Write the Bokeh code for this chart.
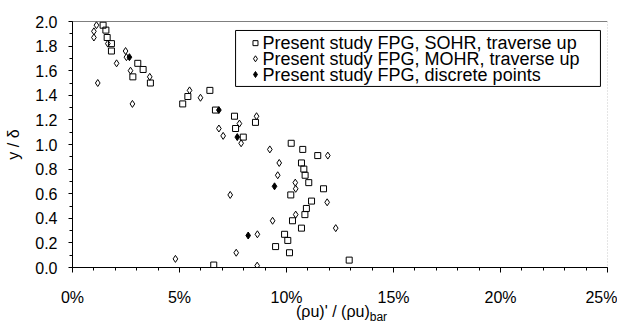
from bokeh.plotting import figure
from bokeh.models import Range1d, FixedTicker, PrintfTickFormatter, Span, Div
from bokeh.core.properties import value
from bokeh.layouts import column
from bokeh.embed import file_html
from bokeh.resources import INLINE

# ---- data (x in percent, y = y/delta) ----
sohr_x = [1.43, 1.56, 1.62, 1.82, 1.82, 3.05, 3.30, 2.82, 3.64, 5.15, 5.39, 6.42, 6.68,
          7.57, 7.62, 7.98, 8.55, 10.22, 10.76, 11.46, 10.70, 10.81, 10.87, 11.04, 11.73,
          10.20, 11.17, 10.93, 10.86, 10.28, 10.70, 9.91, 10.06, 9.49, 10.14, 12.93, 6.60]
sohr_y = [1.97, 1.93, 1.87, 1.82, 1.76, 1.66, 1.61, 1.55, 1.50, 1.33, 1.39, 1.44, 1.28,
          1.23, 1.13, 1.06, 1.18, 1.01, 0.96, 0.91, 0.85, 0.80, 0.75, 0.69, 0.64,
          0.59, 0.54, 0.48, 0.43, 0.38, 0.32, 0.27, 0.22, 0.17, 0.12, 0.06, 0.02]

mohr_x = [1.00, 1.00, 1.12, 1.18, 1.65, 2.06, 2.48, 2.52, 2.71, 2.80, 3.61, 5.47, 5.98,
          6.84, 7.04, 7.80, 7.88, 8.60, 9.22, 11.93, 9.66, 9.59, 10.41, 10.43, 7.37,
          11.90, 10.43, 9.35, 12.30, 8.64, 7.65, 8.63, 4.81]
mohr_y = [1.87, 1.92, 1.97, 1.50, 1.82, 1.66, 1.76, 1.71, 1.60, 1.33, 1.55, 1.44, 1.38,
          1.13, 1.07, 1.17, 1.01, 1.23, 0.96, 0.91, 0.85, 0.75, 0.69, 0.64, 0.59,
          0.53, 0.43, 0.38, 0.32, 0.27, 0.12, 0.015, 0.07]

disc_x = [7.70, 6.84, 9.44, 8.21, 2.66]
disc_y = [1.06, 1.28, 0.66, 0.26, 1.71]

x_ticks = [0, 5, 10, 15, 20, 25]
y_ticks = [0.0, 0.2, 0.4, 0.6, 0.8, 1.0, 1.2, 1.4, 1.6, 1.8, 2.0]

labels = ["Present study FPG, SOHR, traverse up",
          "Present study FPG, MOHR, traverse up",
          "Present study FPG, discrete points"]

FONT = "Liberation Sans"

p = figure(frame_width=535, frame_height=246, output_backend="svg", toolbar_location=None,
           x_range=Range1d(0, 25), y_range=Range1d(0, 2.0),
           min_border_left=72, min_border_top=21, min_border_right=10, min_border_bottom=36,
           background_fill_color="white", border_fill_color="white")
p.outline_line_color = None
p.xgrid.visible = False
p.ygrid.visible = False

p.scatter(sohr_x, sohr_y, marker="square", size=6, fill_color=None,
          line_color="black", line_width=1)
p.scatter(mohr_x, mohr_y, marker="diamond", size=7, fill_color=None,
          line_color="black", line_width=1)
p.scatter(disc_x, disc_y, marker="diamond", size=7, fill_color="black",
          line_color="black", line_width=1)

# frame edges
p.add_layout(Span(location=2.0, dimension="width", line_color="black", line_width=1))
p.add_layout(Span(location=25, dimension="height", line_color="#999999", line_width=1,
                  line_dash="1 2"))

# ---- legend (tight line pitch, drawn inside the frame) ----
LEG_BOX = dict(left=7.62, right=24.67, top=1.927, bottom=1.472)
LEG_GLYPH_X = 8.55
LEG_TEXT_X = 8.88
LEG_ROW_Y = [1.824, 1.697, 1.569]

p.quad(left=[LEG_BOX["left"]], right=[LEG_BOX["right"]], top=[LEG_BOX["top"]],
       bottom=[LEG_BOX["bottom"]], fill_color="white", line_color="black", line_width=1)
p.scatter([LEG_GLYPH_X], [LEG_ROW_Y[0]], marker="square", size=5, fill_color=None,
          line_color="black", line_width=1)
p.scatter([LEG_GLYPH_X], [LEG_ROW_Y[1]], marker="diamond", size=6, fill_color=None,
          line_color="black", line_width=1)
p.scatter([LEG_GLYPH_X], [LEG_ROW_Y[2]], marker="diamond", size=6, fill_color="black",
          line_color="black", line_width=1)
p.text(x=[LEG_TEXT_X] * 3, y=LEG_ROW_Y, text=labels, text_font=value(FONT),
       text_font_size="18px", text_baseline="middle", text_align="left",
       text_color="black")

# axes
for ax in (p.xaxis[0], p.yaxis[0]):
    ax.axis_line_color = "black"
    ax.major_tick_line_color = "black"
    ax.minor_tick_line_color = "black"
    ax.major_tick_in = 0
    ax.minor_tick_in = 0
    ax.major_label_text_font = FONT
    ax.major_label_text_font_size = "16px"
    ax.major_label_text_color = "black"
    ax.axis_label_text_font = FONT
    ax.axis_label_text_font_size = "16px"
    ax.axis_label_text_font_style = "normal"
    ax.axis_label_text_color = "black"

p.xaxis.ticker = FixedTicker(ticks=x_ticks, minor_ticks=list(range(0, 26)))
p.xaxis.formatter = PrintfTickFormatter(format="%d%%")
p.xaxis.major_tick_out = 5
p.xaxis.minor_tick_out = 3
p.xaxis.major_label_standoff = 16

p.yaxis.ticker = FixedTicker(ticks=y_ticks, minor_ticks=[i / 10 for i in range(0, 21)])
p.yaxis.formatter = PrintfTickFormatter(format="%.1f")
p.yaxis.major_tick_out = 4
p.yaxis.minor_tick_out = 3
p.yaxis.major_label_standoff = 11
p.yaxis.axis_label = "y / δ"
p.yaxis.axis_label_standoff = 10

# x-axis title with subscript, as real HTML text below the plot
xlabel = Div(text="<div style='padding-left:296px;white-space:nowrap;color:black'>"
                  "(ρu)' / (ρu)<sub style='font-size:12px;color:black'>bar</sub></div>",
             styles={"font-family": FONT, "font-size": "16px", "color": "black",
                     "line-height": "18px"},
             width=600, height=18, margin=(-5, 0, 0, 0))

layout = column(p, xlabel)

open("out.html", "w").write(file_html(layout, INLINE))
